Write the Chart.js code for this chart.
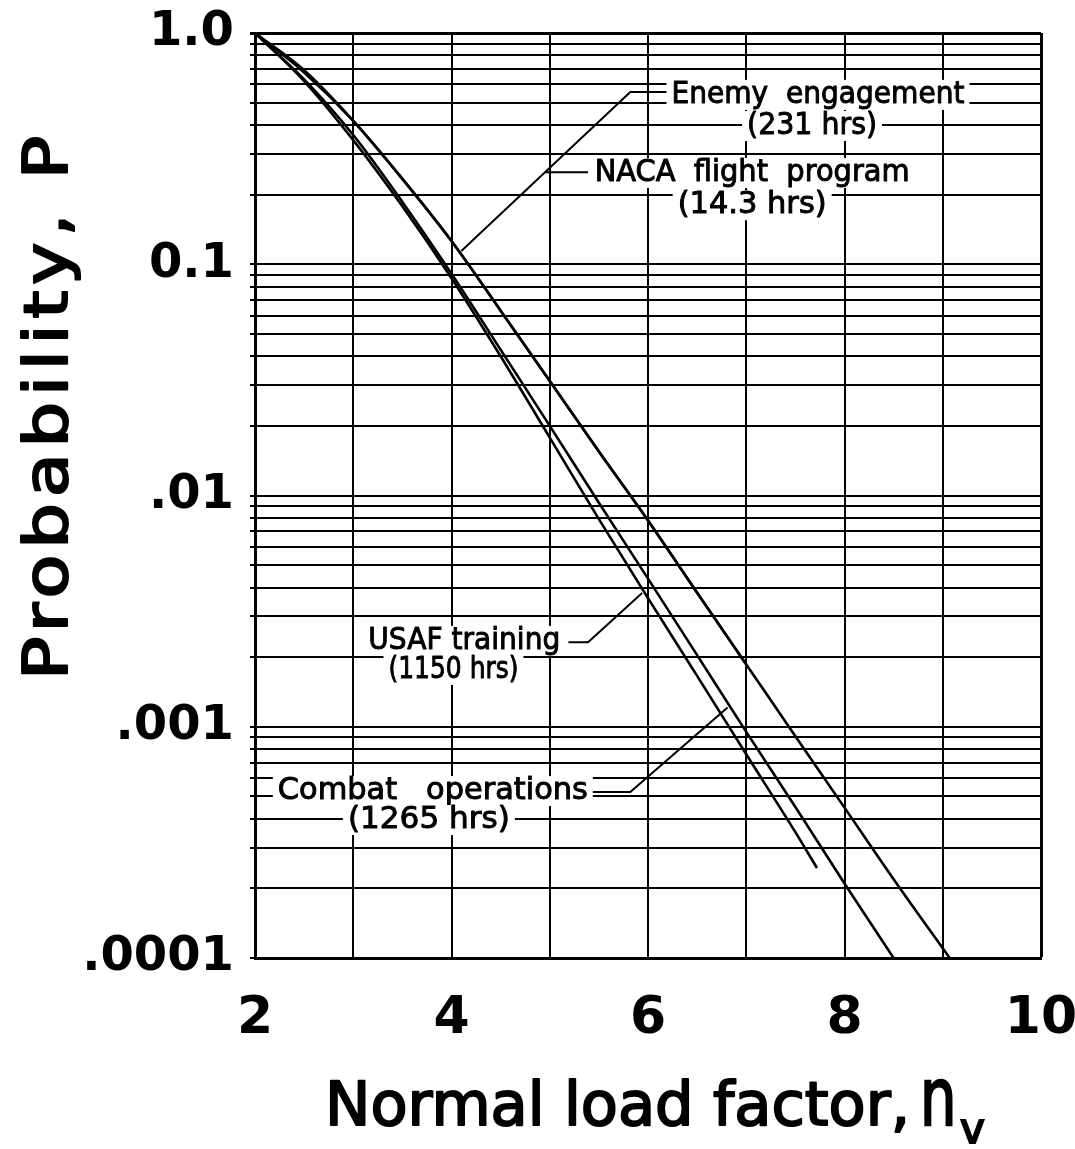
<!DOCTYPE html>
<html>
<head>
<meta charset="utf-8">
<script src="https://cdn.jsdelivr.net/npm/chart.js@4.4.1/dist/chart.umd.min.js"></script>
<style>
  html, body { margin: 0; padding: 0; background: #fff; }
  #wrap { width: 1075px; height: 1149px; }
</style>
</head>
<body>
<div id="wrap"><canvas id="loadChart" width="1075" height="1149"></canvas></div>
<script>
// Probability of exceeding a given normal load factor, per source of data.
const nEnemy = [2, 2.5, 3, 3.5, 4, 4.5, 5, 5.5, 6, 6.5, 7, 7.5, 8, 8.5, 9.07];
const pEnemy = [1.0, 0.69, 0.417, 0.234, 0.126, 0.063, 0.0313, 0.0155, 0.0078, 0.0038, 0.00186, 0.00091, 0.000447, 0.000219, 0.0001];

const nNaca = [2, 2.5, 3, 3.5, 4, 4.5, 5, 5.5, 6, 6.5, 7];
const pNaca = [1.0, 0.675, 0.417, 0.234, 0.126, 0.063, 0.0313, 0.0155, 0.0078, 0.0038, 0.00186];

const nUsaf = [2, 2.5, 3, 3.5, 4, 4.5, 5, 5.5, 6, 6.5, 7, 7.5, 7.72];
const pUsaf = [1.0, 0.62, 0.344, 0.178, 0.087, 0.040, 0.0178, 0.0079, 0.0036, 0.00166, 0.00076, 0.00035, 0.000245];

const nCombat = [2, 2.5, 3, 3.5, 4, 4.5, 5, 5.5, 6, 6.5, 7, 7.5, 8, 8.5];
const pCombat = [1.0, 0.63, 0.362, 0.186, 0.091, 0.0427, 0.020, 0.0093, 0.00437, 0.00204, 0.00095, 0.00045, 0.00021, 0.0001];

// axis ticks
const xTicks = [2, 3, 4, 5, 6, 7, 8, 9, 10];
const xTickLabels = ['2', '', '4', '', '6', '', '8', '', '10'];
const yDecades = [1, 0.1, 0.01, 0.001, 0.0001];
const yDecadeLabels = ['1.0', '0.1', '.01', '.001', '.0001'];

// callout text and leader lines, in chart units (n, P)
const calloutText = [
  ['Enemy  engagement', 7.73, 0.54, 293],
  ['(231 hrs)', 7.67, 0.396, 130],
  ['NACA  flight  program', 7.06, 0.248, 315],
  ['(14.3 hrs)', 7.06, 0.18, 149],
  ['USAF training', 4.13, 0.00235, 192],
  ['(1150 hrs)', 4.02, 0.00176, 130],
  ['Combat   operations', 3.81, 0.000527, 310],
  ['(1265 hrs)', 3.77, 0.000395, 162]
];
const leaderEnemy = [[6.22, 0.556], [5.82, 0.556], [4.10, 0.114]];
const leaderNaca = [[5.39, 0.25], [4.96, 0.25]];
const leaderUsaf = [[5.19, 0.00232], [5.39, 0.00232], [5.94, 0.00379]];
const leaderCombat = [[5.39, 0.000522], [5.82, 0.000522], [6.81, 0.00121]];

const FONT = '"DejaVu Sans", sans-serif';

// log grid: 1..9 in each decade
const yGrid = [];
for (let e = -4; e < 0; e++) {
  for (let m = 1; m <= 9; m++) yGrid.push(Number((m * Math.pow(10, e)).toPrecision(6)));
}
yGrid.push(1);

function pts(xs, ys) { return xs.map((x, i) => ({ x: x, y: ys[i] })); }
function curve(label, xs, ys) {
  return { label: label, data: pts(xs, ys), borderColor: '#000', borderWidth: 2.6,
           pointRadius: 0, fill: false, cubicInterpolationMode: 'monotone' };
}
function leader(points) {
  return { label: '', data: points.map(p => ({ x: p[0], y: p[1] })), borderColor: '#000',
           borderWidth: 2, pointRadius: 0, fill: false, tension: 0 };
}

// text fitted to a width: widen glyphs up to maxStretch, then add spacing;
// squeeze when too long. A thin outline adds weight.
function fitText(ctx, text, left, y, width, weight, maxStretch) {
  ctx.letterSpacing = '0px';
  const w0 = ctx.measureText(text).width;
  const sx = w0 > width ? width / w0 : Math.min(width / w0, maxStretch || 1);
  const ls = text.length > 1 ? (width / sx - w0) / (text.length - 1) : 0;
  ctx.save();
  ctx.textAlign = 'left';
  ctx.lineWidth = weight || 0;
  ctx.strokeStyle = ctx.fillStyle;
  ctx.lineJoin = 'round';
  ctx.translate(left, y);
  ctx.scale(sx, 1);
  ctx.letterSpacing = Math.max(ls, 0).toFixed(2) + 'px';
  ctx.fillText(text, 0, 0);
  if (weight) ctx.strokeText(text, 0, 0);
  ctx.restore();
  ctx.letterSpacing = '0px';
}

const calloutPlugin = {
  id: 'callouts',
  afterDatasetsDraw(chart) {
    const ctx = chart.ctx, xs = chart.scales.x, ys = chart.scales.y;
    ctx.save();
    ctx.font = '31px ' + FONT;
    ctx.textBaseline = 'middle';
    calloutText.forEach(([text, n, p, w]) => {
      const cx = xs.getPixelForValue(n), cy = ys.getPixelForValue(p);
      ctx.fillStyle = '#fff';
      ctx.fillRect(cx - w / 2 - 5, cy - 15, w + 10, 30);
      ctx.fillStyle = '#000';
      fitText(ctx, text, cx - w / 2, cy, w, 1, 1.1);
    });
    ctx.restore();
  }
};

const titlePlugin = {
  id: 'axisTitles',
  afterDraw(chart) {
    const ctx = chart.ctx;
    ctx.save();
    ctx.fillStyle = '#000';
    ctx.textBaseline = 'alphabetic';

    // vertical title
    ctx.save();
    ctx.translate(67, 408);
    ctx.rotate(-Math.PI / 2);
    ctx.font = '60px ' + FONT;
    fitText(ctx, 'Probability, P', -272, 0, 544, 2, 1.2);
    ctx.restore();

    // horizontal title with n subscript v
    ctx.font = '60px ' + FONT;
    fitText(ctx, 'Normal load factor,', 325, 1125, 585, 2, 1.1);
    ctx.save();
    ctx.translate(920, 1125);
    ctx.scale(0.72, 1);
    ctx.font = '80px ' + FONT;
    ctx.fillText('n', 0, 0);
    ctx.lineWidth = 2.5;
    ctx.strokeText('n', 0, 0);
    ctx.restore();
    ctx.font = '42px ' + FONT;
    ctx.lineWidth = 2;
    ctx.fillText('v', 960, 1143);
    ctx.strokeText('v', 960, 1143);
    ctx.restore();
  }
};

const edgeWidth = v => (v === 1 || v === 10 ? 3 : 2);

new Chart(document.getElementById('loadChart'), {
  type: 'line',
  data: {
    datasets: [
      curve('Enemy engagement', nEnemy, pEnemy),
      curve('NACA flight program', nNaca, pNaca),
      curve('USAF training', nUsaf, pUsaf),
      curve('Combat operations', nCombat, pCombat),
      leader(leaderEnemy),
      leader(leaderNaca),
      leader(leaderUsaf),
      leader(leaderCombat)
    ]
  },
  options: {
    responsive: false,
    animation: false,
    devicePixelRatio: 1,
    layout: { padding: { top: 33, right: 34, bottom: 0, left: 0 } },
    plugins: { legend: { display: false }, tooltip: { enabled: false } },
    scales: {
      x: {
        type: 'linear', min: 2, max: 10,
        afterBuildTicks: s => { s.ticks = xTicks.map(v => ({ value: v })); },
        afterFit: s => { s.height = 191; s.paddingLeft = 0; s.paddingRight = 0; },
        ticks: {
          autoSkip: false, maxRotation: 0, color: '#000', padding: 30,
          font: { family: FONT, size: 52, weight: 'bold' },
          callback: v => xTickLabels[xTicks.indexOf(v)]
        },
        grid: { color: '#000', lineWidth: c => edgeWidth(c.tick && c.tick.value), drawTicks: false },
        border: { color: '#000', width: 3 }
      },
      y: {
        type: 'logarithmic', min: 0.0001, max: 1,
        afterBuildTicks: s => { s.ticks = yGrid.map(v => ({ value: v })); },
        afterFit: s => { s.width = 255; s.paddingTop = 0; s.paddingBottom = 0; },
        ticks: {
          autoSkip: false, color: '#000', padding: 16,
          font: { family: FONT, size: 48, weight: 'bold' },
          callback: v => {
            const i = yDecades.findIndex(d => Math.abs(d - v) / d < 1e-6);
            return i >= 0 ? yDecadeLabels[i] : '';
          }
        },
        grid: { color: '#000', lineWidth: c => edgeWidth(c.tick && c.tick.value), tickLength: 5 },
        border: { color: '#000', width: 3 }
      }
    }
  },
  plugins: [calloutPlugin, titlePlugin]
});
</script>
</body>
</html>
